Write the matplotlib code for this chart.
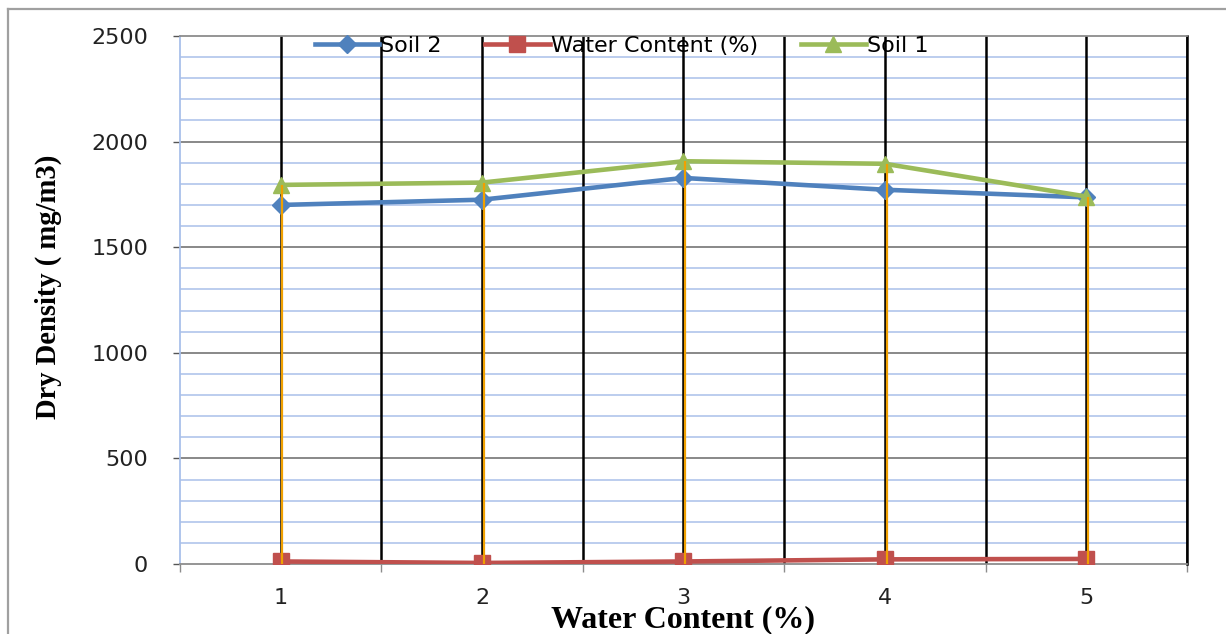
import matplotlib.pyplot as plt
import matplotlib.transforms as mtransforms
from matplotlib.lines import Line2D
import numpy as np

# compaction test results
points = [1, 2, 3, 4, 5]
soil_2 = [1700, 1725, 1828, 1772, 1736]
water_content = [12, 5, 12, 22, 24]
soil_1 = [1795, 1806, 1907, 1895, 1740]

blue = '#4F81BD'
red = '#C0504D'
green = '#9BBB59'

fig = plt.figure(figsize=(12.26, 6.34), dpi=100)
ax = fig.add_axes([0.1468, 0.1104, 0.8214, 0.8328])

ax.set_xlim(0.5, 5.5)
ax.set_ylim(0, 2500)

# horizontal grid: light blue every 100, grey every 500
for y in np.arange(100, 2500, 100):
    if y % 500 == 0:
        ax.axhline(y, color='#7f7f7f', lw=1.3, zorder=1)
    else:
        ax.axhline(y, color='#a9c0ea', lw=1.1, zorder=1)

# black vertical lines at every half step
for x in np.arange(1, 5.51, 0.5):
    ax.axvline(x, color='black', lw=1.8, zorder=1.5)

ax.plot(points, soil_2, color=blue, lw=3.3, marker='D', ms=9, label='Soil 2', zorder=3)
ax.plot(points, water_content, color=red, lw=3.3, marker='s', ms=11, label='Water Content (%)', zorder=3)
ax.plot(points, soil_1, color=green, lw=3.3, marker='^', ms=12, label='Soil 1', zorder=3)

# drop lines from the highest series to the axis
shift = mtransforms.offset_copy(ax.transData, fig=fig, x=1.6, y=0, units='dots')
top = np.maximum(np.maximum(soil_1, soil_2), water_content)
ax.vlines(points, 0, top, colors='#f0a000', lw=1.6, transform=shift, zorder=4)

ax.spines['left'].set_color('#a9c0ea')
ax.spines['top'].set_color('#8c8c8c')
ax.spines['bottom'].set_color('#8c8c8c')
ax.spines['right'].set_color('black')
ax.spines['right'].set_linewidth(1.8)
for s in ['left', 'top', 'bottom']:
    ax.spines[s].set_linewidth(1.3)

ax.set_yticks(np.arange(0, 2501, 500))
ax.tick_params(axis='y', length=5, width=1, color='#555555', pad=18, labelsize=16,
               labelcolor='#222222')
ax.set_xticks(points)
ax.set_xticks(np.arange(0.5, 5.6, 1), minor=True)
ax.tick_params(axis='x', which='major', length=0, pad=17, labelsize=16, labelcolor='#222222')
ax.tick_params(axis='x', which='minor', length=6, width=1, color='#8c8c8c')

ax.set_xlabel('Water Content (%)', family='Liberation Serif', fontweight='bold', fontsize=23)
ax.set_ylabel('Dry Density ( mg/m3)', family='Liberation Serif', fontweight='bold', fontsize=20.6)
ax.xaxis.set_label_coords(0.50, -0.079)
ax.yaxis.set_label_coords(-0.117, 0.525)

fig.legend(loc='center', bbox_to_anchor=(0.507, 0.928), ncol=3, frameon=False,
           fontsize=16, handlelength=2.9, handletextpad=0.05, columnspacing=1.95)

# page frame
fig.add_artist(Line2D([0.0065, 1.0], [0.986, 0.986], color='#a0a0a0', lw=1.6))
fig.add_artist(Line2D([0.0065, 0.0065], [0.0, 0.986], color='#a0a0a0', lw=1.6))

fig.savefig('out.png', dpi=100)
